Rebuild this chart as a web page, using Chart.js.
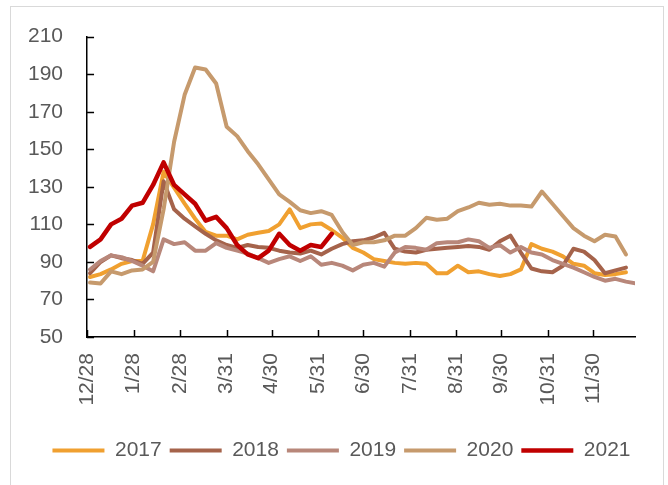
<!DOCTYPE html>
<html>
<head>
<meta charset="utf-8">
<script src="https://cdn.jsdelivr.net/npm/chart.js@4/dist/chart.umd.min.js"></script>
<style>
    html, body { margin: 0; padding: 0; background: #fff; }
    #wrap { position: relative; width: 668px; height: 485px; overflow: hidden; }
    #frame { position: absolute; left: 10px; top: 6px; width: 652px; height: 520px; border: 1.5px solid #d9d9d9; }
    canvas { position: absolute; left: 0; top: 0; }
</style>
</head>
<body>
<div id="wrap">
    <div id="frame"></div>
    <canvas id="chart" width="668" height="485"></canvas>
</div>
<script>
// day offsets from 12/28 for each weekly point
const weekDays = [2, 9, 16, 23, 30, 37, 44, 51, 58, 65, 72, 79, 86, 93, 100, 107, 114, 121, 128, 135,
    142, 149, 156, 163, 170, 177, 184, 191, 198, 205, 212, 219, 226, 233, 240, 247, 254, 261, 268, 275,
    282, 289, 296, 303, 310, 317, 324, 331, 338, 345, 352, 359, 366];

// month ticks on the x axis
const tickDays = [0, 31, 62, 93, 123, 154, 184, 215, 246, 276, 307, 337];
const tickLabels = ["12/28", "1/28", "2/28", "3/31", "4/30", "5/31", "6/30", "7/31", "8/31", "9/30", "10/31", "11/30"];

const years = ["2017", "2018", "2019", "2020", "2021"];
const colors = ["#F0A030", "#A5634B", "#B8877A", "#C69A6D", "#C00000"];

const v2017 = [82, 83.5, 86, 89, 90.5, 90.5, 110, 138, 129.5, 121, 113, 106, 104, 104, 102, 104.5, 105.5, 106.5, 110, 118,
    108, 110, 110.5, 107, 103, 97.5, 95, 91.5, 90.5, 89.5, 89, 89.5, 89, 84, 84, 88, 84.5, 85, 83.5, 82.5,
    83.5, 86, 99.5, 97, 95.5, 93, 89, 88, 84, 83, 83.5, 84.5];
const v2018 = [84, 90, 93.5, 92, 91, 89, 95, 133, 118, 113, 109, 105, 101.5, 99, 97.5, 99, 98, 97.5, 96, 95,
    94.5, 96, 94, 97, 99.5, 101, 101.5, 103, 105.5, 97, 95.5, 95, 96.5, 97, 97.5, 98, 98.5, 98, 96.5, 101,
    104, 95, 86.5, 85, 84.5, 88, 97, 95.5, 91, 84, 85.5, 87];
const v2019 = [86, 90.5, 93.5, 92.5, 90.5, 88, 85, 102, 99.5, 100.5, 96, 96, 100, 97.5, 96, 94.5, 92, 89.5, 91.5, 93,
    90.5, 93, 88.5, 89.5, 88, 85.5, 88.5, 89.5, 87.5, 95, 98, 97.5, 96.5, 100, 100.5, 100.5, 102, 101, 97.5, 99,
    95, 98, 95, 94, 91, 89, 87, 84.5, 82, 80, 81, 79.5, 78.5];
const v2020 = [79, 78.5, 85, 83.5, 85.5, 86, 90, 118, 154, 179, 193.5, 192.5, 185, 162, 157, 149, 142, 134, 126, 122,
    117.5, 116, 117, 115, 106, 99, 100.5, 100.5, 101.5, 104, 104, 108, 113.5, 112.5, 113, 117, 119, 121.5, 120.5, 121,
    120, 120, 119.5, 127.5, 121, 114.5, 108, 104, 101, 104.5, 103.5, 94];
const v2021 = [98, 102, 110, 113, 120, 121.5, 131, 143, 131, 126, 121, 112, 114, 108, 99, 94, 92, 96, 105, 99,
    96, 99, 98, 105];

const seriesValues = [v2017, v2018, v2019, v2020, v2021];

const textColor = "#595959";
const fontFamily = "'Liberation Sans', Arial, sans-serif";

function toPoints(values) {
    return values.map(function(v, i) { return {x: weekDays[i], y: v}; });
}

// tick marks drawn on the inner side of both axes
const innerTicks = {
    id: "innerTicks",
    afterDraw: function(chart) {
        const ctx = chart.ctx;
        const xs = chart.scales.x;
        const ys = chart.scales.y;
        ctx.save();
        ctx.strokeStyle = "#000";
        ctx.lineWidth = 1.5;
        ctx.beginPath();
        xs.ticks.forEach(function(t) {
            const px = Math.round(xs.getPixelForValue(t.value)) + 0.5;
            ctx.moveTo(px, ys.bottom);
            ctx.lineTo(px, ys.bottom - 7);
        });
        ys.ticks.forEach(function(t) {
            const py = Math.round(ys.getPixelForValue(t.value)) + 0.5;
            ctx.moveTo(xs.left, py);
            ctx.lineTo(xs.left + 7, py);
        });
        ctx.stroke();
        ctx.restore();
    }
};

// nudge the legend row to where the original sits
const legendShift = {
    id: "legendShift",
    afterLayout: function(chart) {
        chart.legend.left += 22;
        chart.legend.right += 22;
    }
};

const datasets = years.map(function(y, i) {
    return {
        label: y,
        data: toPoints(seriesValues[i]),
        borderColor: colors[i],
        backgroundColor: colors[i],
        borderWidth: i == 4 ? 4.5 : 4,
        borderCapStyle: "round",
        borderJoinStyle: "round",
        pointRadius: 0,
        tension: 0,
        order: i == 4 ? 0 : 5 - i
    };
});

new Chart(document.getElementById("chart"), {
    type: "line",
    data: {datasets: datasets},
    plugins: [innerTicks, legendShift],
    options: {
        responsive: false,
        animation: false,
        layout: {padding: {left: 4, right: 33, top: 36, bottom: 14}},
        plugins: {
            tooltip: {enabled: false},
            legend: {
                position: "bottom",
                labels: {
                    usePointStyle: true,
                    pointStyle: "line",
                    pointStyleWidth: 52,
                    boxHeight: 21,
                    padding: 8,
                    color: textColor,
                    font: {family: fontFamily, size: 21},
                    sort: function(a, b) { return a.datasetIndex - b.datasetIndex; }
                }
            }
        },
        scales: {
            x: {
                type: "linear",
                min: 0,
                max: 365,
                afterBuildTicks: function(scale) {
                    scale.ticks = tickDays.map(function(d) { return {value: d}; });
                },
                ticks: {
                    autoSkip: false,
                    minRotation: 90,
                    maxRotation: 90,
                    padding: 16,
                    color: textColor,
                    font: {family: fontFamily, size: 21},
                    callback: function(value) {
                        const k = tickDays.indexOf(value);
                        return k >= 0 ? tickLabels[k] : "";
                    }
                },
                grid: {drawOnChartArea: false, drawTicks: false},
                border: {display: true, color: "#000", width: 1.5},
                title: {display: true, text: "", padding: {top: 8, bottom: 0}, font: {size: 2}}
            },
            y: {
                min: 50,
                max: 210,
                ticks: {
                    stepSize: 20,
                    padding: 24,
                    color: textColor,
                    font: {family: fontFamily, size: 21}
                },
                grid: {drawOnChartArea: false, drawTicks: false},
                border: {display: true, color: "#000", width: 1.5}
            }
        }
    }
});
</script>
</body>
</html>
